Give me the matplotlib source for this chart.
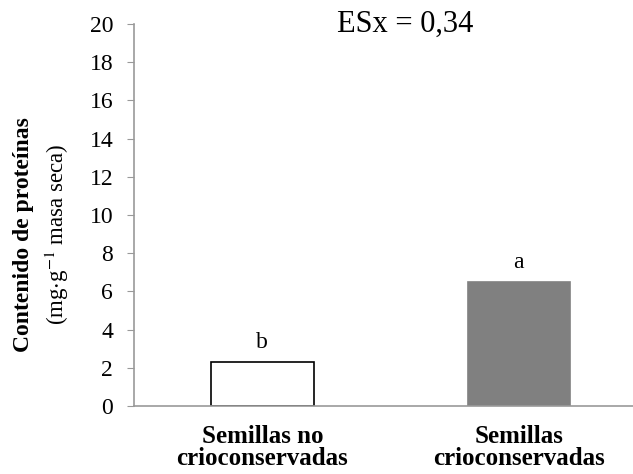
import matplotlib.pyplot as plt

plt.rcParams['font.family'] = 'serif'
plt.rcParams['font.serif'] = ['Liberation Serif', 'DejaVu Serif']
plt.rcParams['mathtext.fontset'] = 'stix'

# Datos
categorias = ['Semillas no\ncrioconservadas', 'Semillas\ncrioconservadas']
proteinas = [2.3, 6.5]
letras = ['b', 'a']
colores = ['white', '#808080']
bordes = ['black', '#808080']

fig = plt.figure(figsize=(6.33, 4.74), dpi=100)
ax = fig.add_axes([0.2117, 0.1435, 0.7883, 0.8059])

x = range(len(categorias))
ax.bar(x, proteinas, width=0.4, color=colores, edgecolor=bordes, linewidth=1.2)

# Letras de significación sobre cada barra
for xi, v, l in zip(x, proteinas, letras):
    ax.text(xi, v + 0.45, l, ha='center', va='bottom', fontsize=17)

ax.set_xlim(-0.5, 1.445)
ax.set_ylim(0, 20)
ax.set_yticks(range(0, 21, 2))
ax.set_xticks(list(x))
ax.set_xticklabels(categorias, fontsize=18, fontweight='bold', linespacing=0.92)

for s in ['top', 'right']:
    ax.spines[s].set_visible(False)
for s in ['left', 'bottom']:
    ax.spines[s].set_color('#999999')
    ax.spines[s].set_linewidth(1.2)
ax.tick_params(axis='y', labelsize=17, length=5, color='#999999', pad=10)
ax.tick_params(axis='x', length=0, pad=14)

# Etiqueta del eje Y en dos líneas
fig.text(0.037, 0.506, 'Contenido de proteínas', rotation=90, ha='center',
         va='center', fontsize=17, fontweight='bold')
fig.text(0.09, 0.505, r'(mg$\cdot$g$^{-1}$ masa seca)', rotation=90,
         ha='center', va='center', fontsize=16.5)

fig.text(0.64, 0.948, 'ESx = 0,34', ha='center', va='center', fontsize=22)

fig.savefig('out.png', dpi=100)
